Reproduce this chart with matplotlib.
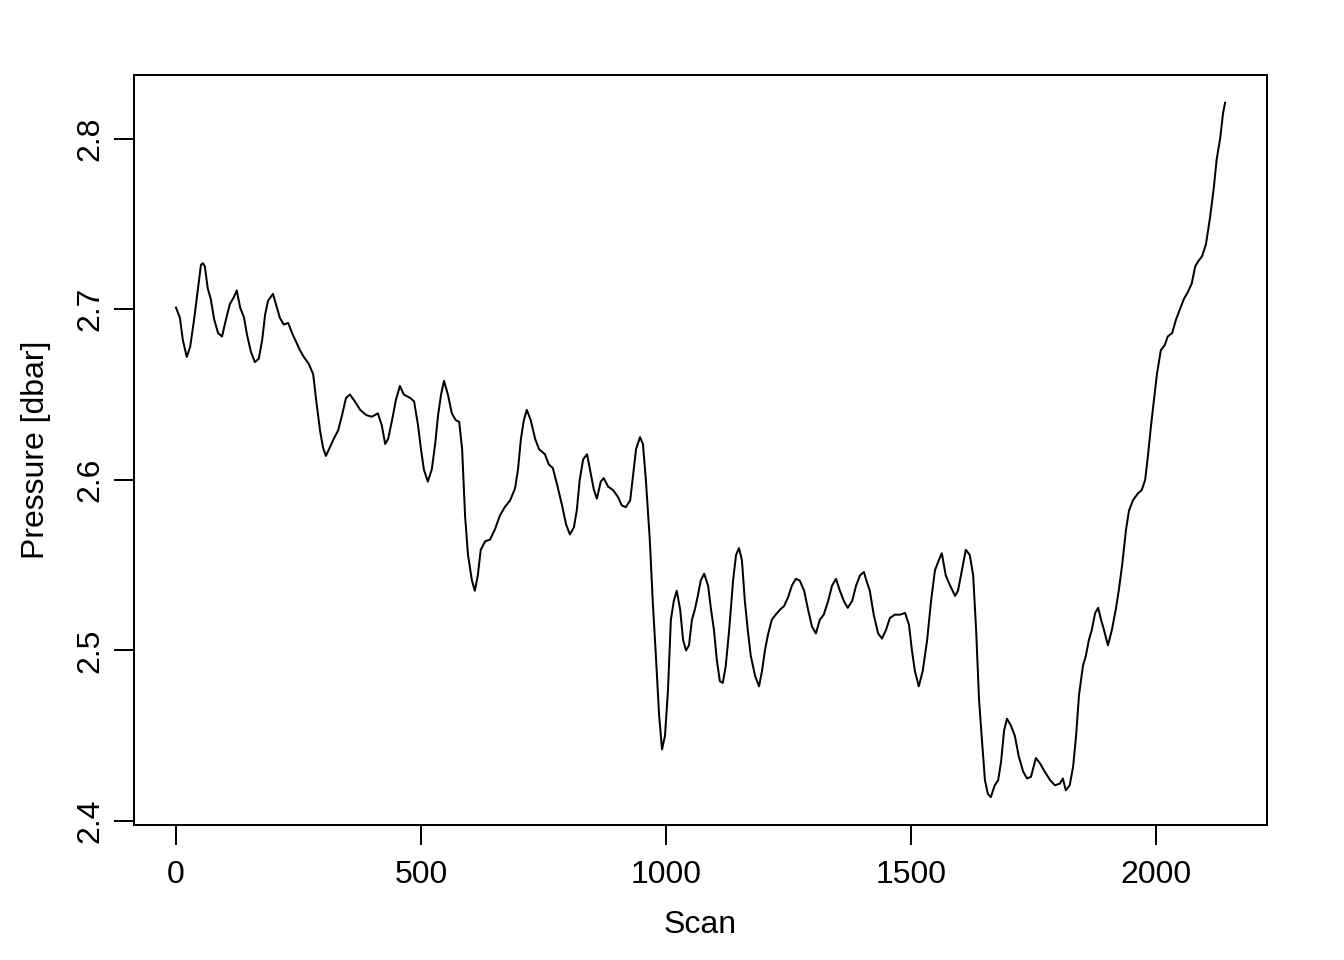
import matplotlib
matplotlib.use("Agg")
import matplotlib.pyplot as plt

scan = [0, 8, 14, 22, 29, 37, 45, 51, 55, 59, 65, 71, 78, 86, 94, 102, 110, 118, 124, 131,
        139, 145, 153, 161, 169, 176, 182, 188, 198, 206, 212, 220, 229, 237, 245, 253, 261, 271, 280, 286,
        294, 300, 306, 314, 322, 331, 339, 347, 355, 365, 376, 388, 400, 412, 420, 427, 433, 441, 449, 457,
        465, 478, 486, 494, 500, 506, 514, 522, 529, 535, 541, 547, 555, 563, 571, 578, 584, 590, 596, 604,
        610, 616, 622, 631, 641, 651, 661, 671, 682, 692, 698, 704, 710, 716, 724, 733, 741, 753, 761, 769,
        778, 788, 796, 804, 812, 818, 824, 831, 839, 845, 853, 859, 867, 873, 882, 892, 902, 910, 918, 927,
        933, 939, 947, 953, 959, 967, 973, 980, 986, 992, 998, 1004, 1010, 1016, 1022, 1029, 1035, 1041, 1047, 1053,
        1059, 1065, 1071, 1078, 1086, 1092, 1098, 1104, 1110, 1116, 1122, 1129, 1137, 1143, 1149, 1155, 1161, 1167, 1173, 1182,
        1190, 1196, 1202, 1208, 1216, 1224, 1233, 1241, 1249, 1257, 1265, 1273, 1282, 1290, 1298, 1306, 1314, 1322, 1331, 1339,
        1347, 1355, 1363, 1371, 1380, 1388, 1396, 1404, 1408, 1416, 1424, 1433, 1441, 1449, 1457, 1467, 1478, 1488, 1496, 1502,
        1508, 1516, 1524, 1533, 1541, 1549, 1557, 1563, 1571, 1580, 1590, 1596, 1604, 1612, 1620, 1627, 1633, 1639, 1645, 1651,
        1657, 1663, 1671, 1678, 1684, 1690, 1696, 1704, 1712, 1720, 1729, 1737, 1745, 1755, 1763, 1773, 1784, 1794, 1804, 1810,
        1816, 1824, 1831, 1837, 1843, 1851, 1857, 1863, 1869, 1876, 1882, 1888, 1894, 1902, 1910, 1918, 1924, 1931, 1939, 1945,
        1953, 1963, 1971, 1978, 1984, 1990, 1996, 2002, 2010, 2018, 2024, 2033, 2041, 2049, 2057, 2065, 2073, 2080, 2086, 2094,
        2102, 2110, 2118, 2124, 2131, 2137, 2141]

pressure = [2.701, 2.695, 2.682, 2.672, 2.678, 2.694, 2.712, 2.726, 2.727, 2.725, 2.712, 2.706, 2.694, 2.686, 2.684, 2.694, 2.703, 2.707, 2.711, 2.701,
            2.695, 2.685, 2.675, 2.669, 2.671, 2.682, 2.697, 2.705, 2.709, 2.701, 2.695, 2.691, 2.692, 2.686, 2.681, 2.676, 2.672, 2.668, 2.662, 2.647,
            2.629, 2.619, 2.614, 2.619, 2.624, 2.629, 2.638, 2.648, 2.650, 2.646, 2.641, 2.638, 2.637, 2.639, 2.632, 2.621, 2.624, 2.635, 2.647, 2.655,
            2.650, 2.648, 2.646, 2.632, 2.618, 2.606, 2.599, 2.606, 2.621, 2.638, 2.650, 2.658, 2.650, 2.639, 2.635, 2.634, 2.618, 2.579, 2.556, 2.541,
            2.535, 2.544, 2.559, 2.564, 2.565, 2.571, 2.579, 2.584, 2.588, 2.595, 2.606, 2.624, 2.635, 2.641, 2.635, 2.624, 2.618, 2.615, 2.609, 2.607,
            2.597, 2.585, 2.574, 2.568, 2.572, 2.582, 2.600, 2.612, 2.615, 2.606, 2.594, 2.589, 2.599, 2.601, 2.596, 2.594, 2.590, 2.585, 2.584, 2.588,
            2.603, 2.618, 2.625, 2.621, 2.600, 2.565, 2.529, 2.494, 2.462, 2.442, 2.450, 2.476, 2.518, 2.529, 2.535, 2.524, 2.506, 2.500, 2.503, 2.518,
            2.524, 2.532, 2.541, 2.545, 2.538, 2.524, 2.512, 2.494, 2.482, 2.481, 2.491, 2.512, 2.541, 2.556, 2.560, 2.553, 2.529, 2.512, 2.497, 2.485,
            2.479, 2.488, 2.500, 2.509, 2.518, 2.521, 2.524, 2.526, 2.531, 2.538, 2.542, 2.541, 2.535, 2.524, 2.514, 2.510, 2.518, 2.521, 2.529, 2.538,
            2.542, 2.535, 2.529, 2.525, 2.529, 2.538, 2.544, 2.546, 2.542, 2.535, 2.521, 2.510, 2.507, 2.512, 2.519, 2.521, 2.521, 2.522, 2.515, 2.500,
            2.488, 2.479, 2.488, 2.506, 2.529, 2.547, 2.553, 2.557, 2.544, 2.538, 2.532, 2.535, 2.547, 2.559, 2.556, 2.544, 2.512, 2.471, 2.447, 2.424,
            2.416, 2.414, 2.421, 2.424, 2.435, 2.453, 2.460, 2.456, 2.450, 2.438, 2.429, 2.425, 2.426, 2.437, 2.434, 2.429, 2.424, 2.421, 2.422, 2.425,
            2.418, 2.421, 2.432, 2.450, 2.474, 2.491, 2.497, 2.506, 2.512, 2.522, 2.525, 2.518, 2.512, 2.503, 2.512, 2.524, 2.535, 2.550, 2.571, 2.582,
            2.588, 2.592, 2.594, 2.600, 2.615, 2.632, 2.647, 2.662, 2.676, 2.679, 2.684, 2.686, 2.694, 2.700, 2.706, 2.710, 2.715, 2.725, 2.728, 2.731,
            2.738, 2.753, 2.771, 2.788, 2.800, 2.815, 2.821]

xticks = [0, 500, 1000, 1500, 2000]
yticks = [2.4, 2.5, 2.6, 2.7, 2.8]

plt.rcParams['font.family'] = ['Liberation Sans', 'DejaVu Sans']
fig = plt.figure(figsize=(1344 / 144, 960 / 144), dpi=144)
ax = fig.add_axes([134 / 1344, 1 - 825 / 960, (1267 - 134) / 1344, (825 - 75) / 960])
ax.plot(scan, pressure, color='black', linewidth=1.0)
ax.margins(x=0.04, y=0.04)
ax.set_xticks(xticks)
ax.set_xticklabels([str(t) for t in xticks])
ax.set_yticks(yticks)
ax.set_yticklabels([f"{t:.1f}" for t in yticks], rotation=90, va='center')
ax.tick_params(axis='both', direction='out', length=10, width=1.0, labelsize=16, color='black')
ax.tick_params(axis='x', pad=7.5)
ax.tick_params(axis='y', pad=4.5)
for s in ax.spines.values():
    s.set_linewidth(1.0)
ax.set_xlabel('Scan', fontsize=16, labelpad=10)
ax.set_ylabel('Pressure [dbar]', fontsize=16, labelpad=12)
fig.savefig('out.png', dpi=144)
